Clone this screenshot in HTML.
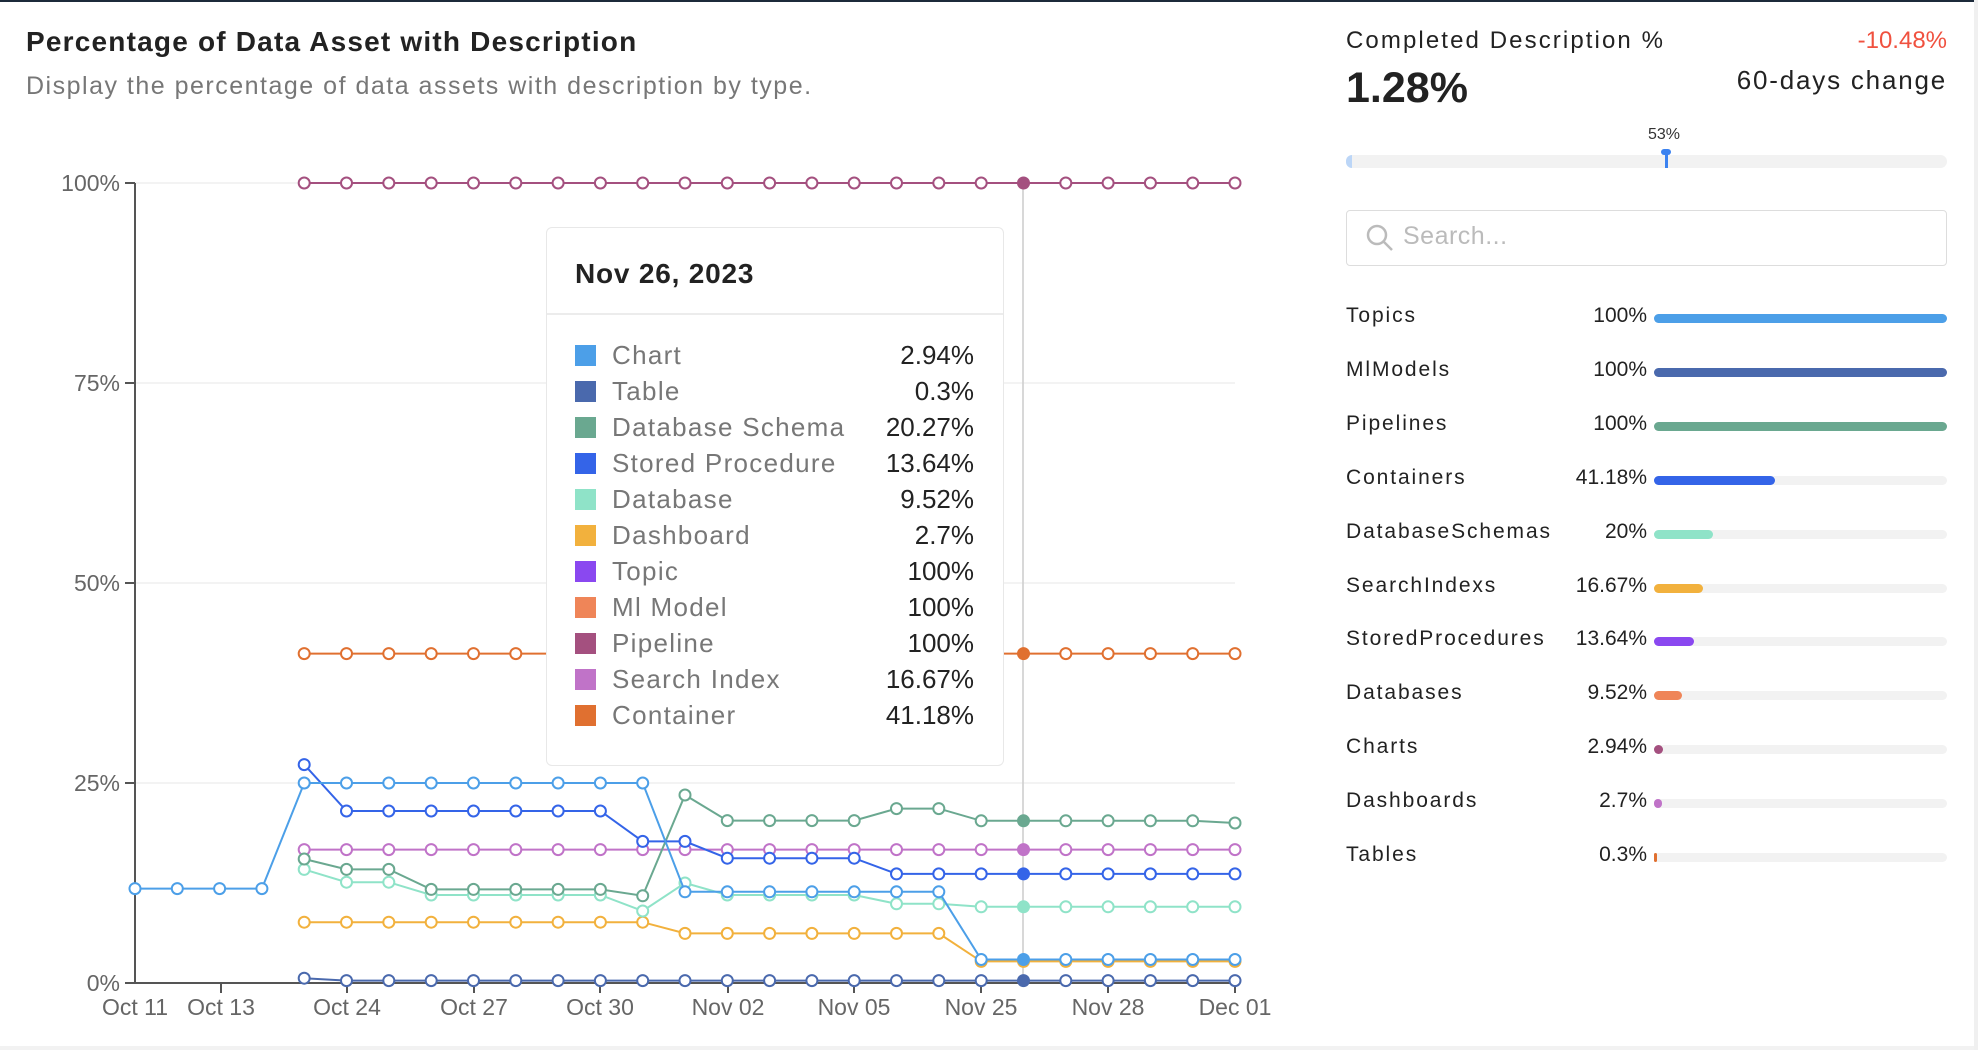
<!DOCTYPE html>
<html><head><meta charset="utf-8">
<style>
html,body{margin:0;padding:0;background:#fff;}
body{width:1978px;height:1050px;position:relative;overflow:hidden;font-family:"Liberation Sans",sans-serif;color:#222;}
.abs{position:absolute;white-space:nowrap;}
</style></head><body>
<div class="abs" style="left:0;top:0;width:1978px;height:2px;background:#1c2a3a"></div>
<div class="abs" style="left:0;top:1046px;width:1978px;height:4px;background:#f2f2f2"></div>
<div class="abs" style="left:1974px;top:0;width:4px;height:1050px;background:#f0f0f0"></div>

<div class="abs" style="left:26px;top:26px;font-size:28px;font-weight:bold;color:#222;letter-spacing:1.2px">Percentage of Data Asset with Description</div>
<div class="abs" style="left:26px;top:72px;font-size:25px;color:#777;letter-spacing:1.5px">Display the percentage of data assets with description by type.</div>

<svg class="abs" style="left:0;top:0" width="1978" height="1050" id="chart">
<g stroke="#efefef" stroke-width="1.5">
<line x1="135" x2="1235" y1="183" y2="183"/><line x1="135" x2="1235" y1="383" y2="383"/>
<line x1="135" x2="1235" y1="583" y2="583"/><line x1="135" x2="1235" y1="783" y2="783"/>
</g>
<g stroke="#555" stroke-width="2"><line x1="135" x2="135" y1="183" y2="983"/><line x1="135" x2="1235" y1="983" y2="983"/>
<line x1="125" x2="135" y1="183" y2="183"/><line x1="125" x2="135" y1="383" y2="383"/><line x1="125" x2="135" y1="583" y2="583"/><line x1="125" x2="135" y1="783" y2="783"/><line x1="125" x2="135" y1="983" y2="983"/>
</g>
<g font-family="Liberation Sans, sans-serif" font-size="23" fill="#666" text-anchor="end">
<text x="120" y="191">100%</text><text x="120" y="391">75%</text><text x="120" y="591">50%</text><text x="120" y="791">25%</text><text x="120" y="991">0%</text>
</g>
<g font-family="Liberation Sans, sans-serif" font-size="23" fill="#666" text-anchor="middle">
<text x="135" y="1015">Oct 11</text><text x="221" y="1015">Oct 13</text><text x="347" y="1015">Oct 24</text><text x="474" y="1015">Oct 27</text><text x="600" y="1015">Oct 30</text><text x="728" y="1015">Nov 02</text><text x="854" y="1015">Nov 05</text><text x="981" y="1015">Nov 25</text><text x="1108" y="1015">Nov 28</text><text x="1235" y="1015">Dec 01</text>
</g>
<g stroke="#555" stroke-width="2"><line x1="221" x2="221" y1="983" y2="993"/><line x1="347" x2="347" y1="983" y2="993"/><line x1="474" x2="474" y1="983" y2="993"/><line x1="600" x2="600" y1="983" y2="993"/><line x1="728" x2="728" y1="983" y2="993"/><line x1="854" x2="854" y1="983" y2="993"/><line x1="981" x2="981" y1="983" y2="993"/><line x1="1108" x2="1108" y1="983" y2="993"/><line x1="1235" x2="1235" y1="983" y2="993"/></g>
<line x1="1023" x2="1023" y1="183" y2="983" stroke="#ccc" stroke-width="1.5"/>
<g id="series"></g>
</svg>

<div class="abs" style="left:546px;top:227px;width:456px;height:537px;background:#fff;border:1.5px solid #e8e8e8;border-radius:6px;">
<div class="abs" style="left:28px;top:30px;font-size:28px;font-weight:bold;color:#222;letter-spacing:0.8px">Nov 26, 2023</div>
<div class="abs" style="left:0;top:85px;width:456px;height:1.5px;background:#ececec"></div>
</div>
<div id="tt" class="abs" style="left:0;top:0"></div>

<div class="abs" style="left:1346px;top:27px;font-size:24px;color:#222;letter-spacing:2.1px">Completed Description %</div>
<div class="abs" style="left:1700px;top:27px;width:247px;text-align:right;font-size:24px;color:#f0513f">-10.48%</div>
<div class="abs" style="left:1346px;top:64px;font-size:43px;font-weight:bold;color:#222">1.28%</div>
<div class="abs" style="left:1620px;top:65px;width:327px;text-align:right;font-size:26px;color:#222;letter-spacing:1.8px">60-days change</div>
<div class="abs" style="left:1346px;top:155px;width:601px;height:13px;background:#f2f2f2;border-radius:7px"></div>
<div class="abs" style="left:1346px;top:155px;width:6px;height:13px;background:#bcd6f7;border-radius:7px 0 0 7px"></div>
<div class="abs" style="left:1648px;top:126px;font-size:16px;color:#333">53%</div>
<div class="abs" style="left:1665px;top:152px;width:3px;height:16px;background:#3b82f0"></div>
<div class="abs" style="left:1661px;top:149px;width:10px;height:6px;background:#3b82f0;border-radius:4px"></div>
<div class="abs" style="left:1346px;top:210px;width:599px;height:54px;border:1.5px solid #ddd;border-radius:4px"></div>
<svg class="abs" style="left:1364px;top:222px" width="32" height="32"><circle cx="13" cy="13" r="9" fill="none" stroke="#bbb" stroke-width="2.5"/><line x1="20" y1="20" x2="28" y2="28" stroke="#bbb" stroke-width="2.5"/></svg>
<div class="abs" style="left:1403px;top:222px;font-size:25px;color:#bbb;letter-spacing:0.5px">Search...</div>
<div id="list"></div>

<script>
var X=function(i){return 135+i*1100/26;},Y=function(v){return 983-v*8;};
function fill(a,b,v,arr){for(var i=a;i<=b;i++)arr[i]=v;}
function mk(segs){var a=[];segs.forEach(function(s){fill(s[0],s[1],s[2],a)});return a;}
var S=[
 ["#a4507f",mk([[4,26,100]])],
 ["#e07030",mk([[4,26,41.18]])],
 ["#c073c8",mk([[4,26,16.67]])],
 ["#f2b13d",mk([[4,12,7.6],[13,19,6.2],[20,26,2.7]])],
 ["#8fe3c8",mk([[4,4,14.2],[5,6,12.6],[7,11,11],[12,12,9],[13,13,12.5],[14,17,11],[18,19,9.9],[20,26,9.52]])],
 ["#6aa890",mk([[4,4,15.5],[5,6,14.2],[7,11,11.7],[12,12,10.9],[13,13,23.5],[14,17,20.3],[18,19,21.8],[20,25,20.27],[26,26,20]])],
 ["#3464e8",mk([[4,4,27.3],[5,11,21.5],[12,13,17.7],[14,17,15.6],[18,26,13.64]])],
 ["#4c9fe8",mk([[0,3,11.8],[4,12,25],[13,19,11.4],[20,26,2.94]])],
 ["#4a69ad",mk([[4,4,0.6],[5,26,0.3]])]
];
var g=document.getElementById('series'),h='';
S.forEach(function(s){var c=s[0],a=s[1],p='';
 for(var i=0;i<27;i++)if(a[i]!==undefined)p+=(p?'L':'M')+X(i).toFixed(1)+' '+Y(a[i]).toFixed(1);
 h+='<path d="'+p+'" fill="none" stroke="'+c+'" stroke-width="2"/>';
 for(var i=0;i<27;i++)if(a[i]!==undefined){var hv=i==21;
  if(c=="#e07030"&&i>=10&&i<=20)continue;
  h+='<circle cx="'+X(i).toFixed(1)+'" cy="'+Y(a[i]).toFixed(1)+'" r="5.5" fill="'+(hv?c:'#fff')+'" stroke="'+c+'" stroke-width="2"/>';}
});
g.innerHTML=h;
var rows=[["#4c9fe8","Chart","2.94%"],["#4a69ad","Table","0.3%"],["#6aa890","Database Schema","20.27%"],["#3464e8","Stored Procedure","13.64%"],["#8fe3c8","Database","9.52%"],["#f2b13d","Dashboard","2.7%"],["#8a48f0","Topic","100%"],["#ef8558","Ml Model","100%"],["#a4507f","Pipeline","100%"],["#c073c8","Search Index","16.67%"],["#e07030","Container","41.18%"]];
var t='';rows.forEach(function(r,i){var y=345+i*36;
 t+='<div class="abs" style="left:575px;top:'+y+'px;width:21px;height:21px;background:'+r[0]+'"></div>';
 t+='<div class="abs" style="left:612px;top:'+(y-5)+'px;font-size:26px;color:#777;letter-spacing:1.3px">'+r[1]+'</div>';
 t+='<div class="abs" style="left:840px;top:'+(y-5)+'px;width:134px;text-align:right;font-size:26px;color:#222">'+r[2]+'</div>';});
document.getElementById('tt').innerHTML=t;
var L=[["Topics","100%",100,"#4c9fe8"],["MlModels","100%",100,"#4a69ad"],["Pipelines","100%",100,"#6aa890"],["Containers","41.18%",41.18,"#3464e8"],["DatabaseSchemas","20%",20,"#8fe3c8"],["SearchIndexs","16.67%",16.67,"#f2b13d"],["StoredProcedures","13.64%",13.64,"#8a48f0"],["Databases","9.52%",9.52,"#ef8558"],["Charts","2.94%",2.94,"#a4507f"],["Dashboards","2.7%",2.7,"#c073c8"],["Tables","0.3%",0.3,"#e07030"]];
var l='';L.forEach(function(r,i){var y=318+i*53.9;
 l+='<div class="abs" style="left:1346px;top:'+(y-14)+'px;font-size:21px;color:#222;letter-spacing:1.9px">'+r[0]+'</div>';
 l+='<div class="abs" style="left:1540px;top:'+(y-14)+'px;width:107px;text-align:right;font-size:21px;color:#222">'+r[1]+'</div>';
 l+='<div class="abs" style="left:1654px;top:'+(y-4)+'px;width:293px;height:9px;background:#f2f2f2;border-radius:5px"></div>';
 l+='<div class="abs" style="left:1654px;top:'+(y-4)+'px;width:'+Math.max(r[2]*2.93,r[2]<1?3:8)+'px;height:9px;background:'+r[3]+';border-radius:5px"></div>';});
document.getElementById('list').innerHTML=l;
</script>
</body></html>
